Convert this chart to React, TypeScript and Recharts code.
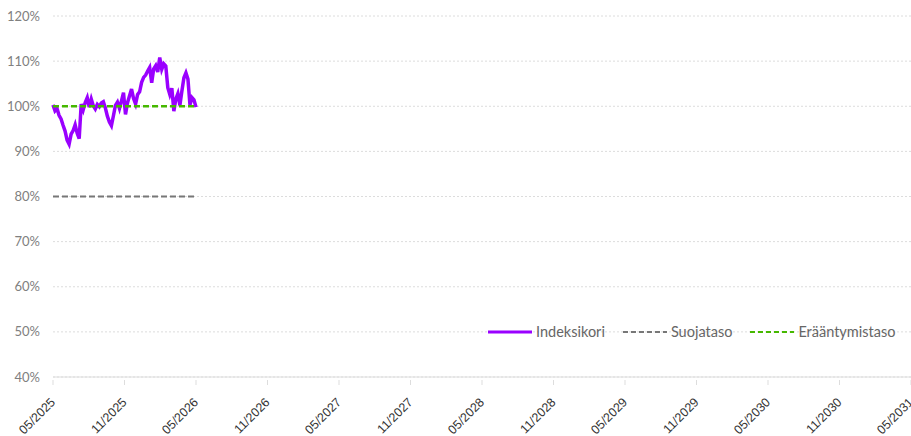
import { CartesianGrid, Legend, Line, LineChart, XAxis, YAxis } from 'recharts';

// Kuukausia alkupäivästä 05/2025 (x-akselin yksikkö).
const TICK_MONTHS = [0, 6, 12, 18, 24, 30, 36, 42, 48, 54, 60, 66, 72];
const TICK_LABELS = [
  '05/2025', '11/2025', '05/2026', '11/2026', '05/2027', '11/2027', '05/2028',
  '11/2028', '05/2029', '11/2029', '05/2030', '11/2030', '05/2031',
];
const Y_TICKS = [40, 50, 60, 70, 80, 90, 100, 110, 120];

// Indeksikori, % (luettu kuvasta, tasavälein 05/2025 -> 05/2026)
const INDEX_VALUES = [
  100.3, 99.0, 99.5, 98.0, 97.2, 95.8, 94.5, 92.5, 91.6, 93.8, 94.6, 95.9,
  94.0, 92.8, 100.5, 99.2, 100.8, 101.9, 99.8, 101.6, 100.1, 99.4, 100.4, 99.9,
  100.7, 101.0, 99.6, 97.8, 96.5, 95.7, 97.9, 100.2, 100.9, 99.5, 101.2, 103.0,
  98.2, 100.8, 102.3, 103.8, 101.7, 100.5, 102.6, 103.2, 105.3, 106.4, 106.9, 107.8,
  108.6, 105.2, 108.3, 109.0, 107.6, 110.8, 108.2, 109.4, 108.9, 104.1, 102.6, 104.0,
  98.9, 101.6, 102.8, 100.2, 103.4, 106.3, 107.4, 106.0, 100.3, 101.9, 101.4, 99.8,
];
const SPAN_MONTHS = 12;
const PROTECTION_LEVEL = 80;
const MATURITY_LEVEL = 100;

const PURPLE = '#9a00ff';
const GREY = '#777777';
const GREEN = '#46b800';

const data = INDEX_VALUES.map((v, i) => ({
  m: (i * SPAN_MONTHS) / (INDEX_VALUES.length - 1),
  index: v,
  protection: PROTECTION_LEVEL,
  maturity: MATURITY_LEVEL,
}));

const XTick = (props: any) => {
  const { x, y, payload, index } = props;
  return (
    <g transform={`translate(${x},${y})`}>
      <line x1={0} x2={0} y1={0} y2={-5} stroke="#dddddd" />
      <text
        transform="translate(3,18) rotate(-45)"
        textAnchor="end"
        fill="#333"
        fontSize={12.5}
        fontFamily="'Liberation Sans', Arial, sans-serif"
      >
        {TICK_LABELS[index] ?? payload.value}
      </text>
    </g>
  );
};

const LEGEND_ITEMS = [
  { label: 'Indeksikori', color: PURPLE, dash: undefined, width: 3 },
  { label: 'Suojataso', color: GREY, dash: '5 3', width: 2 },
  { label: 'Erääntymistaso', color: GREEN, dash: '5 3', width: 2 },
];

// korkeus 0, jotta selite ei varaa tilaa kuvaajan yläpuolelta
const LegendContent = () => (
  <div style={{ height: 0, overflow: 'visible' }}>
    <div style={{ display: 'flex', alignItems: 'center', fontFamily: 'Lato, sans-serif', fontSize: 14.5, color: '#666', whiteSpace: 'nowrap' }}>
      {LEGEND_ITEMS.map((it) => (
        <div key={it.label} style={{ display: 'flex', alignItems: 'center', marginRight: 18 }}>
          <svg width={45} height={10} style={{ marginRight: 3 }}>
            <line x1={0} x2={44} y1={5} y2={5} stroke={it.color} strokeWidth={it.width} strokeDasharray={it.dash} />
          </svg>
          <span>{it.label}</span>
        </div>
      ))}
    </div>
  </div>
);

export default function App() {
  return (
    <div style={{ position: 'fixed', left: 0, top: 0, width: 911, height: 436, overflow: 'hidden', background: '#fff' }}>
      <LineChart width={926} height={436} data={data} margin={{ top: 16, right: 15, left: 0, bottom: 0 }}>
        <CartesianGrid vertical={false} stroke="#dcdcdc" strokeDasharray="2 2" />
        <XAxis
          dataKey="m"
          type="number"
          domain={[0, 72]}
          ticks={TICK_MONTHS}
          interval={0}
          height={59}
          stroke="#dddddd"
          tickLine={false}
          tick={<XTick />}
        />
        <YAxis
          domain={[40, 120]}
          ticks={Y_TICKS}
          width={53}
          axisLine={false}
          tickLine={false}
          tickMargin={7}
          tickFormatter={(v) => `${v}%`}
          tick={{ fill: '#808080', fontSize: 13, fontFamily: 'Lato, sans-serif' }}
        />
        <Legend
          verticalAlign="top"
          align="left"
          wrapperStyle={{ top: 323, left: 488, width: 'auto', height: 0 }}
          content={<LegendContent />}
        />
        <Line
          dataKey="protection"
          stroke={GREY}
          strokeWidth={1.8}
          strokeDasharray="6 3"
          dot={false}
          isAnimationActive={false}
        />
        <Line
          dataKey="index"
          stroke={PURPLE}
          strokeWidth={3.5}
          dot={false}
          isAnimationActive={false}
        />
        <Line
          dataKey="maturity"
          stroke={GREEN}
          strokeWidth={2.4}
          strokeDasharray="6 3"
          dot={false}
          isAnimationActive={false}
        />
      </LineChart>
    </div>
  );
}
